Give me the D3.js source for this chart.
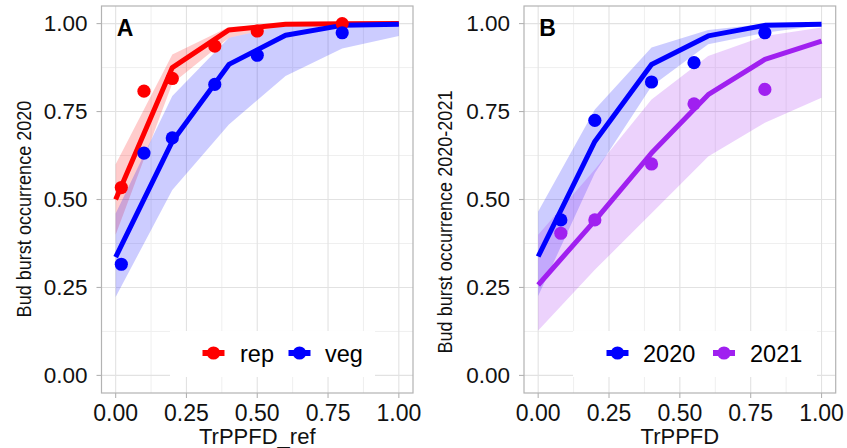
<!DOCTYPE html>
<html>
<head>
<meta charset="utf-8">
<script src="https://cdn.jsdelivr.net/npm/d3@7"></script>
<style>
  body { margin: 0; background: #fff; }
  svg { display: block; }
  text { font-family: "Liberation Sans", Arial, sans-serif; }
</style>
</head>
<body>
<svg id="chart" width="847" height="448"></svg>
<script>
// ---------- data ----------
const gridX = [0, 0.2, 0.4, 0.6, 0.8, 1.0];
const tickVals = [0, 0.25, 0.5, 0.75, 1.0];
const tickLabels = ["0.00", "0.25", "0.50", "0.75", "1.00"];

// Panel A
const repFit = [0.50, 0.875, 0.982, 0.998, 0.9995, 1.0];
const repLo  = [0.40, 0.83, 0.96, 0.995, 0.999, 1.0];
const repHi  = [0.60, 0.912, 0.99, 1.0, 1.0, 1.0];
const vegFit = [0.336, 0.665, 0.884, 0.967, 0.995, 0.998];
const vegLo  = [0.223, 0.527, 0.713, 0.851, 0.929, 0.965];
const vegHi  = [0.46, 0.794, 0.96, 0.995, 1.0, 1.0];
const ptsXA  = [0.02, 0.1, 0.2, 0.35, 0.5, 0.8];
const repPts = [0.534, 0.808, 0.844, 0.936, 0.979, 1.0];
const vegPts = [0.316, 0.632, 0.675, 0.827, 0.91, 0.974];

// Panel B
const fit2020 = [0.338, 0.665, 0.884, 0.965, 0.995, 0.998];
const lo2020  = [0.226, 0.575, 0.822, 0.941, 0.974, 0.995];
const hi2020  = [0.466, 0.756, 0.932, 0.982, 0.999, 1.0];
const fit2021 = [0.257, 0.44, 0.632, 0.798, 0.898, 0.950];
const lo2021  = [0.128, 0.30, 0.461, 0.622, 0.718, 0.789];
const hi2021  = [0.40, 0.585, 0.784, 0.908, 0.965, 0.989];
const ptsXB   = [0.08, 0.2, 0.4, 0.55, 0.8];
const pts2020 = [0.442, 0.725, 0.834, 0.889, 0.974];
const pts2021 = [0.404, 0.442, 0.601, 0.772, 0.813];

const RED = "#FF0000", BLUE = "#0000FF", PURPLE = "#A020F0";

const svg = d3.select("#chart");

function panel(cfg) {
  const x = d3.scaleLinear().domain([-0.05, 1.05]).range([cfg.left, cfg.right]);
  const y = d3.scaleLinear().domain([-0.05, 1.05]).range([393, 6]);
  const g = svg.append("g");

  g.append("rect").attr("x", cfg.left).attr("y", 6)
    .attr("width", cfg.right - cfg.left).attr("height", 387).attr("fill", "#fff");

  const minor = [0.125, 0.375, 0.625, 0.875];
  g.selectAll(".mx").data(minor).join("line")
    .attr("x1", d => x(d)).attr("x2", d => x(d)).attr("y1", 6).attr("y2", 393)
    .attr("stroke", "#efefef").attr("stroke-width", 1);
  g.selectAll(".my").data(minor).join("line")
    .attr("y1", d => y(d)).attr("y2", d => y(d)).attr("x1", cfg.left).attr("x2", cfg.right)
    .attr("stroke", "#efefef").attr("stroke-width", 1);
  g.selectAll(".Mx").data(tickVals).join("line")
    .attr("x1", d => x(d)).attr("x2", d => x(d)).attr("y1", 6).attr("y2", 393)
    .attr("stroke", "#e2e2e2").attr("stroke-width", 1.1);
  g.selectAll(".My").data(tickVals).join("line")
    .attr("y1", d => y(d)).attr("y2", d => y(d)).attr("x1", cfg.left).attr("x2", cfg.right)
    .attr("stroke", "#e2e2e2").attr("stroke-width", 1.1);

  const area = d3.area().x(d => x(d.x)).y0(d => y(d.lo)).y1(d => y(d.hi));
  const line = d3.line().x(d => x(d.x)).y(d => y(d.y));

  cfg.series.forEach(s => {
    const data = gridX.map((xv, i) => ({x: xv, lo: s.lo[i], hi: s.hi[i]}));
    g.append("path").attr("d", area(data)).attr("fill", s.color).attr("fill-opacity", 0.2);
  });
  cfg.series.forEach(s => {
    const data = gridX.map((xv, i) => ({x: xv, y: s.fit[i]}));
    g.append("path").attr("d", line(data)).attr("fill", "none")
      .attr("stroke", s.color).attr("stroke-width", 5).attr("stroke-linejoin", "round");
  });
  cfg.series.forEach(s => {
    g.selectAll(null).data(cfg.ptsX.map((xv, i) => ({x: xv, y: s.pts[i]}))).join("circle")
      .attr("cx", d => x(d.x)).attr("cy", d => y(d.y)).attr("r", 6.6).attr("fill", s.color);
  });

  const lg = g.append("g");
  lg.append("rect").attr("x", cfg.legend.x0).attr("y", 331)
    .attr("width", cfg.legend.x1 - cfg.legend.x0).attr("height", 46).attr("fill", "#fff");
  cfg.series.forEach((s, i) => {
    const cx = cfg.legend.sym[i];
    lg.append("line").attr("x1", cx - 11).attr("x2", cx + 11).attr("y1", 353).attr("y2", 353)
      .attr("stroke", s.color).attr("stroke-width", 6);
    lg.append("circle").attr("cx", cx).attr("cy", 353).attr("r", 6.6).attr("fill", s.color);
    lg.append("text").attr("x", cfg.legend.txt[i]).attr("y", 362)
      .attr("font-size", 23.5).attr("fill", "#000").text(s.name);
  });

  g.append("rect").attr("x", cfg.left).attr("y", 6)
    .attr("width", cfg.right - cfg.left).attr("height", 387)
    .attr("fill", "none").attr("stroke", "#b3b3b3").attr("stroke-width", 1.2);

  tickVals.forEach((v, i) => {
    g.append("line").attr("x1", cfg.left - 5).attr("x2", cfg.left).attr("y1", y(v)).attr("y2", y(v))
      .attr("stroke", "#b3b3b3").attr("stroke-width", 1.1);
    g.append("text").attr("x", cfg.left - 14).attr("y", y(v)).attr("dy", "0.35em")
      .attr("text-anchor", "end").attr("font-size", 22.5).attr("fill", "#111").text(tickLabels[i]);
    g.append("line").attr("x1", x(v)).attr("x2", x(v)).attr("y1", 393).attr("y2", 398)
      .attr("stroke", "#b3b3b3").attr("stroke-width", 1.1);
    g.append("text").attr("x", x(v)).attr("y", 421)
      .attr("text-anchor", "middle").attr("font-size", 23).attr("fill", "#111").text(tickLabels[i]);
  });

  g.append("text").attr("x", (cfg.left + cfg.right) / 2).attr("y", 444)
    .attr("text-anchor", "middle").attr("font-size", 22).attr("fill", "#111").text(cfg.xTitle);
  g.append("text")
    .attr("transform", `translate(${cfg.yTitleX},${cfg.yTitleY}) rotate(-90) scale(0.86,1)`)
    .attr("text-anchor", "middle").attr("font-size", 21).attr("fill", "#111").text(cfg.yTitle);

  g.append("text").attr("x", x(0) + 1).attr("y", 36)
    .attr("font-size", 23).attr("font-weight", "bold").attr("fill", "#000").text(cfg.tag);
}

panel({
  left: 101.5, right: 413, tag: "A",
  xTitle: "TrPPFD_ref", yTitle: "Bud burst occurrence 2020", yTitleX: 30.5, yTitleY: 209,
  ptsX: ptsXA,
  series: [
    {name: "rep", color: RED, fit: repFit, lo: repLo, hi: repHi, pts: repPts},
    {name: "veg", color: BLUE, fit: vegFit, lo: vegLo, hi: vegHi, pts: vegPts}
  ],
  legend: {x0: 170, x1: 375, sym: [213.5, 299.5], txt: [240, 325]}
});

panel({
  left: 524, right: 835.7, tag: "B",
  xTitle: "TrPPFD", yTitle: "Bud burst occurrence 2020-2021", yTitleX: 452, yTitleY: 222,
  ptsX: ptsXB,
  series: [
    {name: "2020", color: BLUE, fit: fit2020, lo: lo2020, hi: hi2020, pts: pts2020},
    {name: "2021", color: PURPLE, fit: fit2021, lo: lo2021, hi: hi2021, pts: pts2021}
  ],
  legend: {x0: 573, x1: 817, sym: [617.5, 724], txt: [643, 750]}
});
</script>
</body>
</html>
